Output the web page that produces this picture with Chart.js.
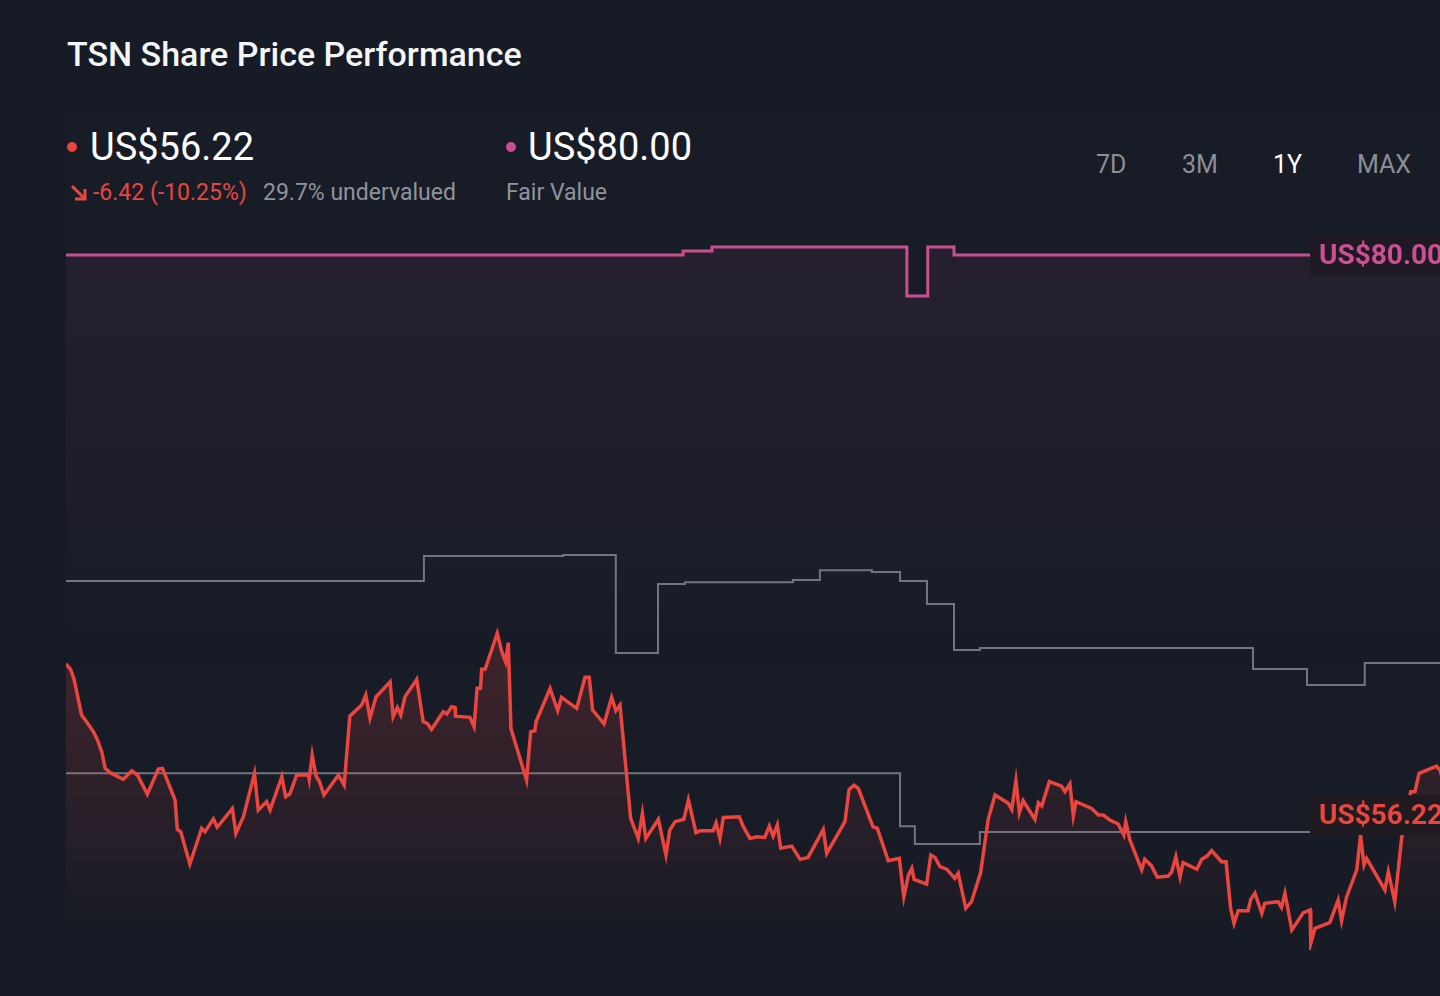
<!DOCTYPE html>
<html>
<head>
<meta charset="utf-8">
<script src="https://cdn.jsdelivr.net/npm/chart.js@4.4.1/dist/chart.umd.min.js"></script>
<style>
  html, body { margin: 0; padding: 0; width: 1440px; height: 996px; overflow: hidden; background: #161b25; font-family: Roboto, "Noto Sans", sans-serif; }
  .abs { position: absolute; line-height: 1; white-space: nowrap; }
  #panel { position: absolute; left: 66px; top: 112px; width: 1404px; height: 825px; background: linear-gradient(#181c27 0%, #181c27 86%, #161b25 100%); }
  #title { left: 67px; top: 37px; font-size: 34px; font-weight: 500; color: #f4f5f7; }
  .big { top: 128px; font-size: 38px; color: #ffffff; }
  .sub { top: 181px; font-size: 23px; color: #8e939c; }
  .dot { position: absolute; width: 10px; height: 10px; border-radius: 50%; top: 142px; }
  .range { top: 152px; font-size: 25px; color: #8a8f98; }
  .range.on { color: #ffffff; }
  #chartBox { position: absolute; left: 66px; top: 215px; width: 1404px; height: 735px; }
</style>
</head>
<body>
<div id="panel"></div>
<div class="abs" id="title">TSN Share Price Performance</div>

<div class="dot" style="left:67px;background:#e8473f"></div>
<div class="abs big" style="left:90px">US$56.22</div>
<svg style="position:absolute;left:70px;top:184px" width="18" height="18" viewBox="0 0 18 18">
  <path d="M2 2 L15 15 M15 5 L15 15 L5 15" stroke="#e8473f" stroke-width="3" fill="none"/>
</svg>
<div class="abs sub" style="left:93px;color:#e5483f">-6.42 (-10.25%)</div>
<div class="abs sub" style="left:263px">29.7% undervalued</div>

<div class="dot" style="left:506px;background:#c9508f"></div>
<div class="abs big" style="left:528px">US$80.00</div>
<div class="abs sub" style="left:506px">Fair Value</div>

<div id="ranges"></div>

<div id="chartBox"><canvas id="perf"></canvas></div>

<script>
// range selector
const rangeLabels = ['7D', '3M', '1Y', 'MAX'];
const rangeLeft = [1096, 1182, 1273, 1357];
const activeRange = '1Y';

// share price, x = days into the year
const priceDays = [0, 1.2, 2.1, 4.1, 5.4, 7.2, 8.2, 9.4, 10.3, 11.6, 15.1, 17.3, 18.8, 21.4, 24.3, 25.4, 28.7, 29.3, 30.2, 32.6,
  35.7, 36.6, 38.8, 39.8, 43.8, 44.7, 46.7, 49.6, 50.6, 52.8, 53.7, 56.8, 57.8, 58.9, 60.7, 63.8, 64.0, 64.8, 65.8, 66.7,
  67.9, 71.7, 73.2, 74.7, 77.8, 78.9, 80.0, 81.6, 85.3, 86.1, 87.2, 88.1, 89.2, 92.3, 94.0, 95.1, 96.2, 99.3, 100.2, 101.5,
  102.4, 102.5, 106.3, 107.4, 108.2, 109.1, 109.4, 110.3, 113.5, 114.7, 115.7, 116.4, 117.1, 121.2, 122.3, 123.4, 123.7, 127.4, 129.4, 130.4,
  134.4, 136.6, 137.7, 138.6, 141.6, 143.6, 144.7, 145.8, 148.6, 150.6, 151.7, 152.6, 155.9, 157.9, 158.9, 160.3, 162.6, 163.8, 165.8, 166.8,
  170.3, 171.1, 172.1, 173.0, 177.2, 178.2, 180.0, 181.8, 183.9, 185.1, 186.1, 187.2, 188.1, 191.0, 193.2, 195.3, 199.3, 200.2, 205.0, 206.1,
  207.4, 208.5, 212.4, 213.5, 216.4, 219.3, 220.5, 221.7, 222.6, 223.2, 226.5, 227.6, 228.7, 230.0, 231.8, 233.9, 234.8, 236.8, 238.3, 240.7,
  242.7, 244.5, 248.0, 248.9, 250.0, 250.9, 251.9, 255.0, 255.9, 256.8, 258.8, 262.0, 262.9, 264.2, 265.1, 265.8, 269.9, 271.7, 273.0, 274.7,
  276.9, 278.4, 278.9, 280.0, 283.1, 283.9, 285.7, 287.2, 290.1, 291.0, 292.1, 293.2, 294.0, 297.6, 298.9, 300.3, 301.5, 304.1, 305.3, 306.5,
  307.4, 308.5, 311.1, 311.8, 312.9, 314.7, 315.5, 319.0, 319.9, 320.8, 322.6, 325.6, 327.4, 327.6, 328.7, 332.6, 334.8, 335.7, 337.0, 339.7,
  340.7, 341.6, 342.3, 347.1, 348.0, 349.7, 351.5, 353.9, 355.0, 356.1, 360.7, 361.6, 365.0];
const priceValues = [62.64, 62.41, 62.00, 60.47, 60.18, 59.76, 59.44, 58.91, 58.20, 58.02, 57.74, 58.10, 57.92, 57.11, 58.17, 58.20, 56.86, 55.61, 55.51, 54.14,
  55.66, 55.51, 56.06, 55.70, 56.50, 55.44, 56.15, 57.99, 56.43, 56.79, 56.43, 57.85, 57.00, 57.11, 57.92, 57.92, 57.74, 58.77, 57.88, 57.64,
  57.07, 57.92, 57.49, 60.42, 60.89, 61.32, 60.33, 61.24, 61.88, 60.40, 60.79, 60.47, 61.24, 61.98, 60.18, 60.11, 59.86, 60.61, 60.51, 60.82,
  60.79, 60.42, 60.37, 59.97, 61.60, 61.60, 62.41, 62.41, 63.94, 63.15, 62.73, 63.54, 59.90, 57.71, 59.76, 59.80, 60.18, 61.60, 60.65, 61.22,
  60.75, 62.07, 62.07, 60.68, 60.09, 61.22, 60.65, 60.89, 56.08, 55.23, 56.29, 55.23, 56.04, 54.52, 55.58, 55.94, 56.04, 56.86, 55.47, 55.55,
  55.55, 55.89, 55.23, 56.12, 56.15, 55.75, 55.23, 55.30, 55.27, 55.75, 55.33, 55.80, 54.81, 54.90, 54.34, 54.42, 55.61, 54.59, 55.94, 57.31,
  57.49, 57.35, 55.72, 55.66, 54.28, 54.38, 52.75, 53.67, 53.96, 53.49, 53.29, 54.52, 54.42, 54.03, 53.92, 53.53, 53.75, 52.26, 52.54, 53.77,
  56.04, 57.07, 56.72, 56.46, 57.68, 56.32, 56.83, 56.04, 56.74, 56.60, 57.64, 57.45, 57.21, 57.54, 56.18, 56.79, 56.50, 56.22, 56.22, 56.01,
  55.84, 55.37, 55.94, 55.16, 53.89, 54.34, 54.06, 53.58, 53.63, 53.81, 54.45, 53.60, 54.20, 53.92, 54.34, 54.48, 54.71, 54.24, 54.24, 52.26,
  51.62, 52.16, 52.16, 52.64, 52.90, 52.05, 52.47, 52.54, 52.30, 52.90, 51.34, 52.07, 52.19, 50.77, 51.41, 51.65, 52.61, 51.73, 52.73, 53.89,
  55.37, 54.10, 54.38, 53.04, 53.81, 52.54, 55.23, 57.21, 57.21, 57.99, 58.30, 58.13, 56.22];

// fair value estimate (stepped)
const fairDays = [0, 162.4, 170.0, 221.3, 226.8, 233.7, 369.5];
const fairValues = [80.00, 80.17, 80.34, 78.26, 80.34, 80.00, 80.00];

// grey stepped reference lines
const upperDays = [0, 94.2, 130.8, 144.7, 155.8, 162.9, 191.3, 198.4, 212.1, 219.5, 226.6, 233.7, 240.5, 312.4, 326.6, 341.8, 369.5];
const upperValues = [66.16, 67.22, 67.26, 63.10, 66.03, 66.11, 66.20, 66.62, 66.54, 66.16, 65.18, 63.23, 63.31, 62.42, 61.74, 62.68, 62.68];
const lowerDays = [0, 219.5, 223.4, 240.5, 369.5];
const lowerValues = [58.00, 55.75, 54.99, 55.50, 55.50];

const rangesEl = document.getElementById('ranges');
rangeLabels.forEach((r, i) => {
    const d = document.createElement('div');
    d.className = 'abs range' + (r === activeRange ? ' on' : '');
    d.style.left = rangeLeft[i] + 'px';
    d.textContent = r;
    rangesEl.appendChild(d);
});

const zip = (xs, ys) => xs.map((x, i) => ({ x: x, y: ys[i] }));

function fade(chart, rgb, a0, a1, v0, v1) {
    const { ctx, chartArea, scales } = chart;
    if (!chartArea) return `rgba(${rgb},${a0})`;
    const g = ctx.createLinearGradient(0, scales.y.getPixelForValue(v0), 0, scales.y.getPixelForValue(v1));
    g.addColorStop(0, `rgba(${rgb},${a0})`);
    g.addColorStop(1, `rgba(${rgb},${a1})`);
    return g;
}

// value tags at the right edge
const priceTags = {
    id: 'priceTags',
    afterDatasetsDraw(chart) {
        const { ctx, chartArea, scales: { y } } = chart;
        const tags = [
            { v: fairValues[fairValues.length - 1], color: '#cc4f93', bg: '#1e1923' },
            { v: priceValues[priceValues.length - 1], color: '#ea463f', bg: '#201a21' }
        ];
        ctx.save();
        ctx.font = 'bold 28px Roboto, sans-serif';
        ctx.textBaseline = 'middle';
        tags.forEach(t => {
            const py = y.getPixelForValue(t.v);
            const bx = chartArea.right - 160;
            ctx.fillStyle = t.bg;
            ctx.beginPath();
            ctx.roundRect(bx, py - 20, 170, 40, 4);
            ctx.fill();
            ctx.fillStyle = t.color;
            ctx.fillText('US$' + t.v.toFixed(2), bx + 9, py + 2);
        });
        ctx.restore();
    }
};

new Chart(document.getElementById('perf'), {
    type: 'line',
    data: {
        datasets: [
            {
                label: 'Share Price',
                data: zip(priceDays, priceValues),
                borderColor: '#ea463f',
                borderWidth: 3.5,
                pointRadius: 0,
                tension: 0,
                fill: 'start',
                backgroundColor: (c) => fade(c.chart, '234,70,63', 0.2, 0.0, 64, 50.8)
            },
            {
                label: 'Upper',
                data: zip(upperDays, upperValues),
                stepped: true,
                borderColor: '#70757f',
                borderWidth: 2,
                pointRadius: 0,
                fill: false
            },
            {
                label: 'Lower',
                data: zip(lowerDays, lowerValues),
                stepped: true,
                borderColor: '#70757f',
                borderWidth: 2,
                pointRadius: 0,
                fill: false
            },
            {
                label: 'Fair Value',
                data: zip(fairDays, fairValues),
                stepped: true,
                borderColor: '#c9508f',
                borderWidth: 3,
                pointRadius: 0,
                fill: 'start',
                backgroundColor: (c) => fade(c.chart, '201,80,143', 0.075, 0.0, 80, 62)
            }
        ]
    },
    options: {
        responsive: true,
        maintainAspectRatio: false,
        animation: false,
        layout: { padding: 0 },
        scales: {
            x: { type: 'linear', min: 0, max: 369.5, display: false },
            y: { min: 50.49, max: 81.70, display: false }
        },
        plugins: {
            legend: { display: false },
            tooltip: { enabled: false }
        }
    },
    plugins: [priceTags]
});
</script>
</body>
</html>
